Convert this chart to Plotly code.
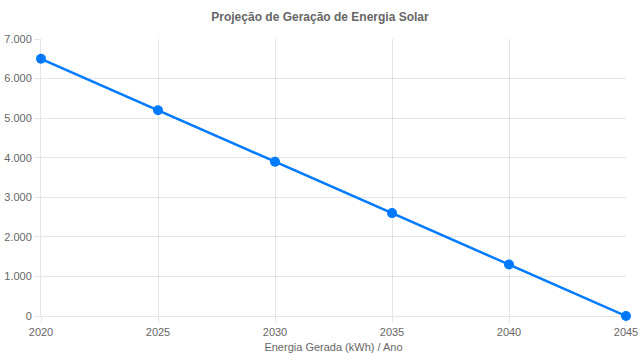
import plotly.graph_objects as go

years = [2020, 2025, 2030, 2035, 2040, 2045]
energia = [6500, 5200, 3900, 2600, 1300, 0]
y_ticks = [0, 1000, 2000, 3000, 4000, 5000, 6000, 7000]

grid = "rgba(0,0,0,0.1)"
txt = "#666666"
W, H = 640, 364
fig = go.Figure(go.Scatter(
    x=years, y=energia, mode="lines+markers",
    line=dict(color="#007bff", width=2.5),
    marker=dict(color="#007bff", size=10),
    cliponaxis=False,
))
fig.update_layout(
    width=W, height=H,
    margin=dict(l=41, r=14, t=39, b=48, autoexpand=False),
    paper_bgcolor="white", plot_bgcolor="white",
    separators=",.",
    showlegend=False,
    font=dict(family="Liberation Sans, Arial, sans-serif", size=11, color=txt),
    title=dict(text="<b>Projeção de Geração de Energia Solar</b>", x=0.5, xanchor="center",
               y=1 - 17 / H, yref="container", yanchor="middle",
               font=dict(size=12, color=txt), automargin=False),
)
fig.update_xaxes(
    range=[2020, 2045], tickvals=years, showgrid=True, gridcolor=grid,
    ticks="outside", ticklen=6, tickcolor=grid, zeroline=False,
    showline=True, linecolor=grid, automargin=False,
    tickfont=dict(size=11, color=txt),
    title=dict(text="Energia Gerada (kWh) / Ano", font=dict(size=11, color=txt), standoff=6),
)
fig.update_yaxes(
    range=[0, 7000], tickvals=y_ticks, tickformat=",d", showgrid=True, gridcolor=grid,
    ticks="outside", ticklen=6, tickcolor=grid, zeroline=False,
    showline=True, linecolor=grid, automargin=False,
    tickfont=dict(size=11, color=txt),
)
fig.write_html("out.html", config={"displayModeBar": False},
               post_script="document.body.style.margin='0';document.body.style.overflow='hidden';")
